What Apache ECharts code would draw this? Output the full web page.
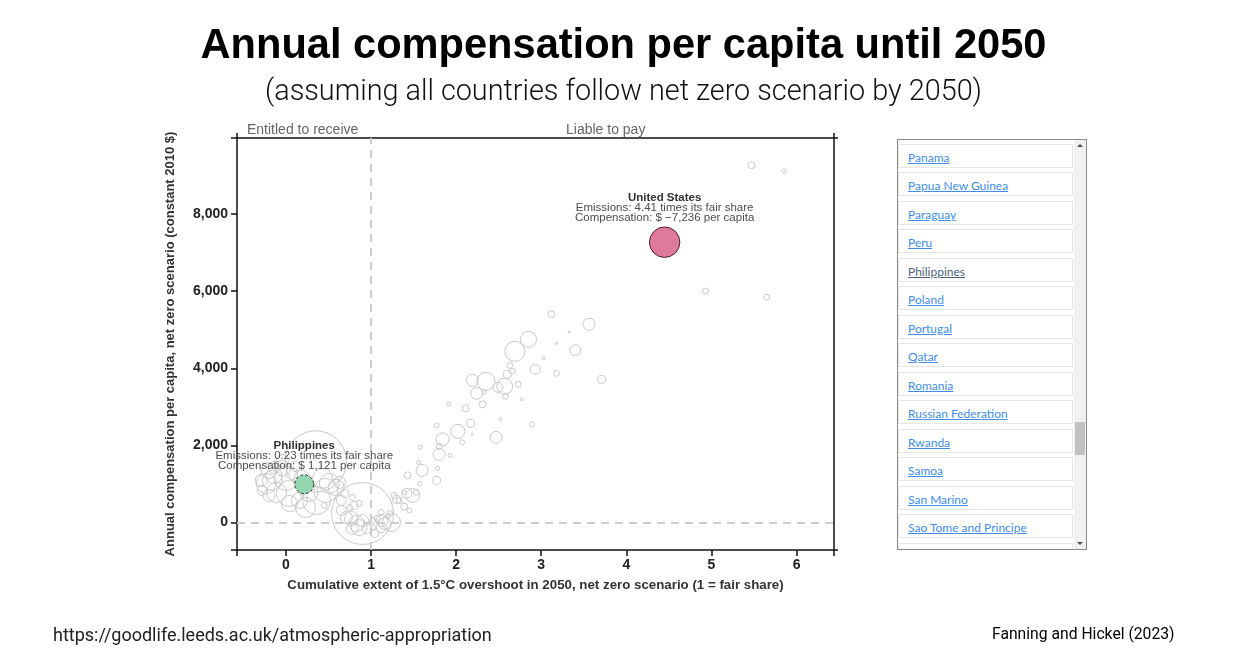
<!DOCTYPE html>
<html><head><meta charset="utf-8">
<script src="https://cdn.jsdelivr.net/npm/echarts@6/dist/echarts.min.js"></script>
<style>
html,body{margin:0;padding:0;background:#fff;}
#chart{position:absolute;left:0;top:0;width:1247px;height:668px;}
#list{position:absolute;left:897px;top:139px;width:188px;height:409px;border:1px solid #8a8a8a;overflow:hidden;background:#fff;}
.row{position:absolute;left:0;width:173px;height:22px;border:1px solid #e6e6e6;background:#fff;}
.row a{position:absolute;left:9px;top:1px;line-height:24px;font-size:12px;font-family:Lato,'Open Sans',sans-serif;color:#3f8de8;text-decoration:underline;white-space:nowrap;}
.row a.visited{color:#4f5f7d;}
#track{position:absolute;left:176px;top:0;width:12px;height:409px;background:#f1f1f1;}
#thumb{position:absolute;left:1px;top:282px;width:10px;height:33px;background:#c1c1c1;}
.arr{position:absolute;left:3px;width:0;height:0;border-left:3px solid transparent;border-right:3px solid transparent;}
#up{top:4px;border-bottom:3px solid #505050;}
#down{bottom:4px;border-top:3px solid #505050;}
</style>
</head><body>
<div id="chart"></div>
<div id="list"><div id="track"><div class="arr" id="up"></div><div id="thumb"></div><div class="arr" id="down"></div></div></div>
<script>
// ---- data ----
var xTicks = [0, 1, 2, 3, 4, 5, 6];
var yTicks = [0, 2000, 4000, 6000, 8000];
var xRange = [-0.575, 6.44];
var yRange = [-714, 9973];

// grey countries: cumulative overshoot (x), compensation per capita (y), population (millions)
var grayX = [5.47,5.85,4.93,5.65,3.12,3.56,3.33,3.18,3.40,2.85,2.69,3.03,2.93,3.18,3.71,2.63,2.66,2.60,2.73,2.57,
  2.49,2.35,2.19,2.24,2.33,2.58,2.77,2.31,2.11,1.91,2.52,2.89,2.17,2.02,2.19,2.47,1.77,1.84,2.07,1.80,
  1.58,1.80,1.93,1.56,1.60,1.43,1.78,1.77,1.57,1.49,1.39,1.27,1.30,1.39,1.45,1.20,1.24,1.13,1.12,0.65,
  0.78,0.75,0.80,0.86,0.65,0.71,0.77,0.83,0.90,0.86,0.78,0.95,1.02,1.04,1.02,1.07,1.12,1.22,1.16,1.33,
  1.42,1.53,0.90,0.35,-0.23,-0.14,-0.11,0.04,0.00,0.16,0.36,0.47,0.51,0.59,-0.14,-0.04,0.07,-0.20,-0.28,0.45,
  0.69,-0.16,0.43,0.63,-0.20,-0.04,0.11,0.23,0.04,-0.29,0.27,0.19];
var grayY = [9270,9116,5999,5843,5402,5143,4935,4649,4467,4753,4441,4258,3973,3869,3713,4077,3921,3843,3584,3532,
  3506,3662,3688,3350,3376,3272,3195,3064,2961,3064,2675,2545,2571,2363,2285,2207,2519,2156,2078,1973,
  1948,1766,1740,1558,1350,1221,1402,1091,1013,701,779,701,597,415,311,155,0,52,-131,571,
  649,389,442,493,311,130,103,-26,52,-131,-156,-156,-131,-286,52,103,259,233,-26,571,
  753,779,233,1584,1013,1221,779,753,1143,571,571,831,1013,909,1428,1402,1272,701,831,442,
  753,1091,1143,1038,1350,1610,1454,389,493,1091,779,1143];
var grayPop = [18,6,13,13,18,53,2,2,44,94,147,3,37,13,24,13,13,24,13,94,
  37,119,53,53,6,13,3,18,18,6,3,9,24,72,1.5,53,9,62,9,13,
  6,53,6,6,53,18,6,24,6,72,6,13,24,18,9,9,119,53,37,37,
  13,13,24,13,37,53,72,94,53,94,53,37,13,24,13,13,13,13,53,13,
  37,13,1410,1380,147,94,147,248,212,94,288,212,147,94,53,94,53,53,37,13,
  24,147,147,53,94,53,37,147,94,53,119,94];

// highlighted countries
var hlNames = ['Philippines', 'United States'];
var hlX = [0.215, 4.45];
var hlY = [990, 7270];
var hlPop = [130, 340];
var hlRatio = ['0.23', '4.41'];
var hlComp = ['1,121', '\u22127,236'];

// country list (right panel)
var listCountries = ['Panama','Papua New Guinea','Paraguay','Peru','Philippines','Poland','Portugal','Qatar',
  'Romania','Russian Federation','Rwanda','Samoa','San Marino','Sao Tome and Principe','Saudi Arabia'];

// ---- list panel ----
var list = document.getElementById('list');
listCountries.forEach(function (c, i) {
  var r = document.createElement('div');
  r.className = 'row';
  r.style.top = (3.5 + i * 28.5) + 'px';
  var a = document.createElement('a');
  a.textContent = c;
  if (c === 'Philippines') a.className = 'visited';
  r.appendChild(a);
  list.insertBefore(r, document.getElementById('track'));
});

// ---- chart ----
var FONT = "'Liberation Sans', Arial, Helvetica, sans-serif";
var sizeOf = function (v) { return 1.65 * Math.sqrt(v[2]); };
var grayData = grayX.map(function (x, i) { return [x, grayY[i], grayPop[i]]; });

function hlSeries(i, fill, border, btype) {
  return {
    type: 'scatter', xAxisIndex: 0, yAxisIndex: 0, z: 5,
    data: [{ name: hlNames[i], value: [hlX[i], hlY[i], hlPop[i]] }],
    symbolSize: sizeOf,
    itemStyle: { color: fill, borderColor: border, borderWidth: 1, borderType: btype, opacity: 1 },
    label: {
      show: true, position: 'top', distance: 4,
      formatter: '{b|' + hlNames[i] + '}\n{t|Emissions: ' + hlRatio[i] + ' times its fair share}\n{t|Compensation: $ ' + hlComp[i] + ' per capita}',
      rich: {
        b: { fontFamily: FONT, fontWeight: 'bold', fontSize: 11.5, color: '#333', lineHeight: 10, align: 'center' },
        t: { fontFamily: FONT, fontSize: 11.5, color: '#4d4d4d', lineHeight: 10, align: 'center' }
      }
    },
    emphasis: { disabled: true }, silent: true
  };
}

var chart = echarts.init(document.getElementById('chart'), null, { renderer: 'canvas' });
var axisLine = { show: true, onZero: false, lineStyle: { color: '#111', width: 1.5 } };
chart.setOption({
  animation: false,
  backgroundColor: '#fff',
  title: [
    { text: 'Annual compensation per capita until 2050', left: 'center', top: 21,
      textStyle: { fontFamily: FONT, fontSize: 41.6, fontWeight: 'bold', color: '#000' } },
    { text: '(assuming all countries follow net zero scenario by 2050)', left: 'center', top: 73,
      textStyle: { fontFamily: 'Roboto', fontSize: 28.8, fontWeight: 300, color: '#111' } },
    { text: 'https://goodlife.leeds.ac.uk/atmospheric-appropriation', left: 48, top: 622,
      textStyle: { fontFamily: 'Roboto', fontSize: 18, fontWeight: 'normal', color: '#222' } },
    { text: 'Fanning and Hickel (2023)', left: 987, top: 622,
      textStyle: { fontFamily: 'Roboto', fontSize: 15.7, fontWeight: 'normal', color: '#000' } }
  ],
  graphic: [
    { type: 'text', left: 247, top: 123, style: { text: 'Entitled to receive', fontFamily: FONT, fontSize: 14, fill: '#666' } },
    { type: 'text', left: 566, top: 123, style: { text: 'Liable to pay', fontFamily: FONT, fontSize: 14, fill: '#666' } }
  ],
  grid: { left: 237, right: 413, top: 138, bottom: 118 },
  xAxis: [
    { type: 'value', position: 'bottom', min: xRange[0], max: xRange[1],
      axisLine: axisLine, splitLine: { show: false },
      axisTick: { show: true, length: 6, lineStyle: { color: '#111', width: 1.5 }, customValues: [xRange[0]].concat(xTicks, [xRange[1]]) },
      axisLabel: { customValues: xTicks, margin: 8, fontFamily: FONT, fontSize: 14, fontWeight: 'bold', color: '#222' },
      name: 'Cumulative extent of 1.5\u00b0C overshoot in 2050, net zero scenario (1 = fair share)',
      nameLocation: 'middle', nameGap: 29,
      nameTextStyle: { fontFamily: FONT, fontSize: 13.3, fontWeight: 'bold', color: '#333' } },
    { type: 'value', position: 'top', min: xRange[0], max: xRange[1],
      axisLine: axisLine, splitLine: { show: false },
      axisTick: { show: true, length: 5, lineStyle: { color: '#111', width: 1.5 }, customValues: [xRange[0], xRange[1]] },
      axisLabel: { show: false } }
  ],
  yAxis: [
    { type: 'value', position: 'left', min: yRange[0], max: yRange[1],
      axisLine: axisLine, splitLine: { show: false },
      axisTick: { show: true, length: 6, lineStyle: { color: '#111', width: 1.5 }, customValues: [yRange[0]].concat(yTicks, [yRange[1]]) },
      axisLabel: { customValues: yTicks, margin: 9, fontFamily: FONT, fontSize: 14, fontWeight: 'bold', color: '#222',
        formatter: function (v) { return v.toLocaleString('en-US'); } },
      name: 'Annual compensation per capita, net zero scenario (constant 2010 $)',
      nameLocation: 'middle', nameGap: 60,
      nameTextStyle: { fontFamily: FONT, fontSize: 13, fontWeight: 'bold', color: '#333' } },
    { type: 'value', position: 'right', min: yRange[0], max: yRange[1],
      axisLine: axisLine, splitLine: { show: false },
      axisTick: { show: true, length: 4, lineStyle: { color: '#111', width: 1.5 }, customValues: [yRange[0], yRange[1]] },
      axisLabel: { show: false } }
  ],
  series: [
    { type: 'scatter', xAxisIndex: 0, yAxisIndex: 0, z: 2,
      data: grayData, symbolSize: sizeOf,
      itemStyle: { color: 'rgba(255,255,255,0)', borderColor: '#c9c9c9', borderWidth: 1, opacity: 1 },
      emphasis: { disabled: true }, silent: true,
      markLine: { silent: true, symbol: ['none', 'none'], animation: false,
        lineStyle: { color: '#cccccc', width: 2, type: [8, 6] }, label: { show: false },
        emphasis: { disabled: true },
        data: [{ xAxis: 1 }, { yAxis: 0 }] } },
    hlSeries(0, '#93d6ad', '#333', [3, 2]),
    hlSeries(1, '#e07a9b', '#4a2030', 'solid')
  ]
});
</script>
</body></html>
